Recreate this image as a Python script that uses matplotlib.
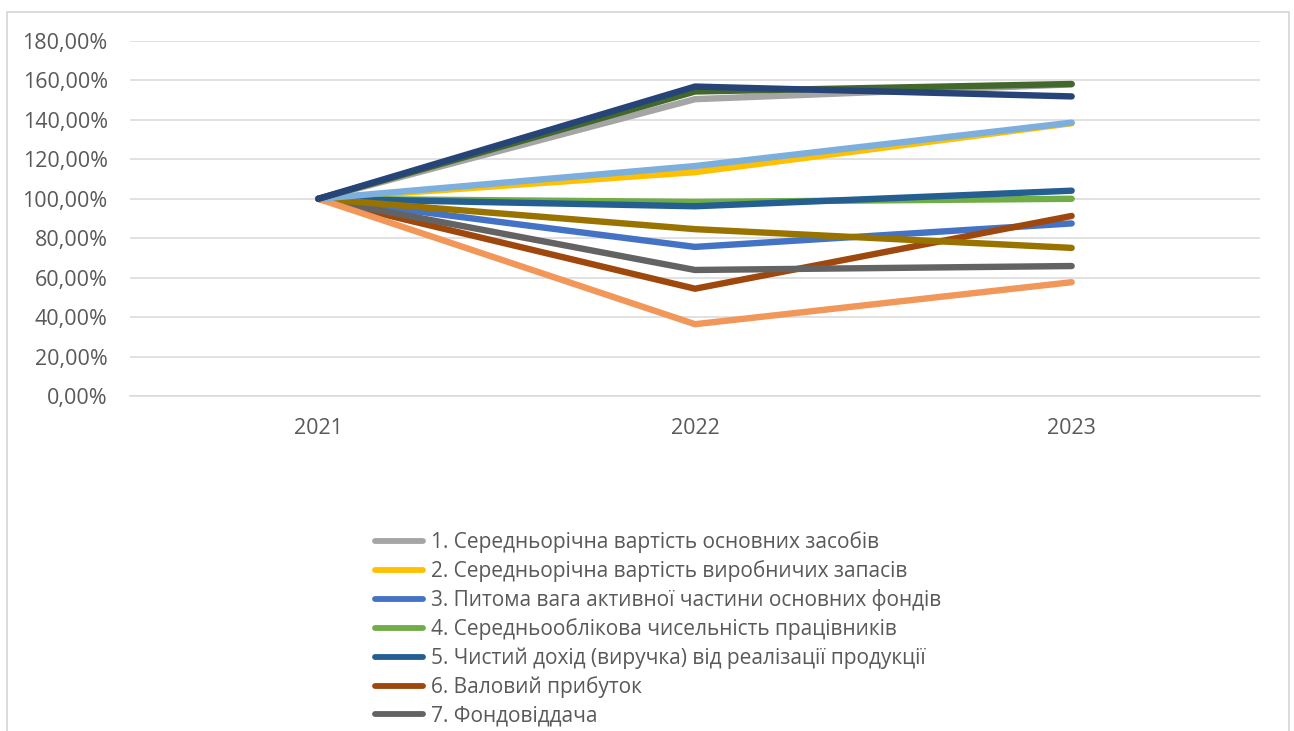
import matplotlib.pyplot as plt
from matplotlib.patches import Rectangle
from matplotlib.ticker import FuncFormatter

plt.rcParams['font.family'] = ['Open Sans', 'DejaVu Sans']

years = ['2021', '2022', '2023']

# index values relative to 2021, %
s1 = [100, 150.5, 158.0]
s2 = [100, 113.5, 138.3]
s3 = [100, 75.6, 87.5]
s4 = [100, 98.4, 100.0]
s5 = [100, 96.2, 104.1]
s6 = [100, 54.4, 91.3]
s7 = [100, 63.9, 65.9]
s8 = [100, 84.6, 75.1]
s9 = [100, 36.4, 57.7]
s10 = [100, 116.6, 138.6]
s11 = [100, 154.4, 158.2]
s12 = [100, 156.9, 151.9]

labels = [
    '1. Середньорічна вартість основних засобів',
    '2. Середньорічна вартість виробничих запасів',
    '3. Питома вага активної частини основних фондів',
    '4. Середньооблікова чисельність працівників',
    '5. Чистий дохід (виручка) від реалізації продукції',
    '6. Валовий прибуток',
    '7. Фондовіддача',
]

series = [s1, s2, s3, s4, s5, s6, s7, s8, s9, s10, s11, s12]
colors = ['#A5A5A5', '#FFC000', '#4472C4', '#70AD47', '#255E91', '#9E480E',
          '#636363', '#997300', '#F1975A', '#7CAFDD', '#43682B', '#264478']

W, H = 1294, 731
fig = plt.figure(figsize=(W / 100, H / 100), dpi=100)
ax = fig.add_axes([130 / W, 1 - 396 / H, 1130 / W, 355 / H])

x = range(len(years))
handles = []
for i, (vals, c) in enumerate(zip(series, colors)):
    ln, = ax.plot(x, [v / 100 for v in vals], color=c, lw=4.6,
                  solid_capstyle='round', solid_joinstyle='round', zorder=3 + i)
    handles.append(ln)

ax.set_xlim(-0.5, 2.5)
ax.set_ylim(0, 1.8)
ax.set_yticks([i * 0.2 for i in range(10)])
ax.yaxis.set_major_formatter(FuncFormatter(lambda v, p: f'{v * 100:.2f}%'.replace('.', ',')))
ax.set_xticks(list(x))
ax.set_xticklabels(years)
ax.grid(axis='y', color='#D9D9D9', lw=1.1)
ax.set_axisbelow(True)
for side in ['top', 'right', 'left']:
    ax.spines[side].set_visible(False)
ax.spines['bottom'].set_color('#D9D9D9')
ax.spines['bottom'].set_linewidth(1.1)
ax.tick_params(axis='both', length=0, labelsize=15.5, labelcolor='#595959')
ax.tick_params(axis='y', pad=16)
ax.tick_params(axis='x', pad=16)

leg = fig.legend(handles[:7], labels, loc='upper left',
                 bbox_to_anchor=(375 / W, 1 - 531 / H), frameon=False,
                 fontsize=15, labelcolor='#595959', handlelength=2.3,
                 handletextpad=0.4, labelspacing=0.35, borderpad=0,
                 borderaxespad=0)
for h in leg.legend_handles:
    h.set_linewidth(4.2)

# chart area border
fig.patches.append(Rectangle((7 / W, -0.05), 1282 / W, 1 - 12 / H + 0.05,
                             transform=fig.transFigure, fill=False,
                             edgecolor='#D9D9D9', lw=1.3))

fig.savefig('out.png', dpi=100)
